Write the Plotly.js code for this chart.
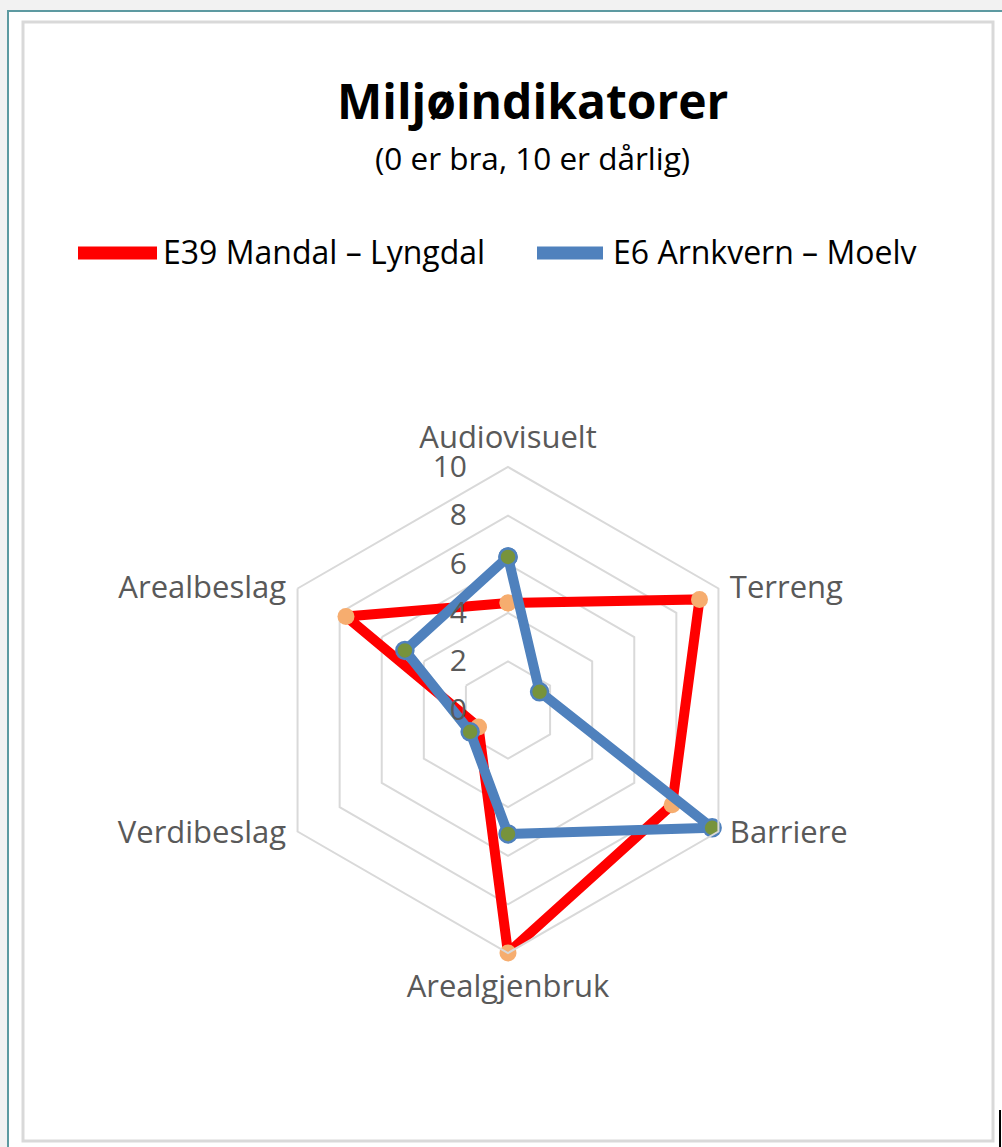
<!DOCTYPE html>
<html>
<head>
<meta charset="utf-8">
<script src="https://cdn.plot.ly/plotly-3.0.1.min.js"></script>
<style>
  html, body { margin: 0; padding: 0; background: #f2f2f2; }
  #chart { width: 1002px; height: 1147px; }
</style>
</head>
<body>
<div id="chart"></div>
<script>
// ---- Data ----
const categories = ["Audiovisuelt", "Terreng", "Barriere", "Arealgjenbruk", "Verdibeslag", "Arealbeslag"];
const seriesNames = ["E39 Mandal – Lyngdal", "E6 Arnkvern – Moelv"];
const e39Values = [4.4, 9.1, 7.8, 10.0, 1.4, 7.7];
const e6Values = [6.3, 1.5, 9.7, 5.1, 1.8, 4.9];
const radialTicks = [0, 2, 4, 6, 8, 10];

// ---- Geometry helpers (page pixels -> paper) ----
const W = 1002, H = 1147;
const px = x => x / W;
const py = y => 1 - y / H;

const cx = 508, cy = 710, R = 243;

function closed(arr) { return arr.concat([arr[0]]); }

// angular label text: small vertical nudges via blank lines
const NB = "\u00a0";
const catLabels = categories.map((c, i) => {
  if (i === 1 || i === 5) return NB + "<br>" + c;                  // upper side labels: nudge down
  if (i === 2 || i === 4) return c + "<br>" + NB + "<br>" + NB;    // lower side labels: nudge up
  return c;
});

const traces = [
  {
    type: "scatterpolar",
    name: seriesNames[0],
    r: closed(e39Values),
    theta: closed(categories),
    mode: "lines+markers",
    line: { color: "#ff0000", width: 10 },
    marker: { color: "#f6ad6f", size: 17, line: { width: 0 } },
    showlegend: false,
    hoverinfo: "r+theta"
  },
  {
    type: "scatterpolar",
    name: seriesNames[1],
    r: closed(e6Values),
    theta: closed(categories),
    mode: "lines+markers",
    line: { color: "#4f81bd", width: 10 },
    marker: { color: "#77933c", size: 17, line: { color: "#4f81bd", width: 2.5 } },
    showlegend: false,
    hoverinfo: "r+theta"
  }
];

const layout = {
  width: W, height: H,
  margin: { l: 0, r: 0, t: 0, b: 0 },
  paper_bgcolor: "#f2f2f2",
  font: { family: "Open Sans, sans-serif", color: "#595959" },
  showlegend: false,
  polar: {
    domain: { x: [px(cx - R), px(cx + R)], y: [py(cy + R), py(cy - R)] },
    gridshape: "linear",
    bgcolor: "rgba(0,0,0,0)",
    radialaxis: {
      range: [0, 10],
      tickvals: radialTicks,
      ticktext: radialTicks.map(String),
      angle: 90,
      tickangle: 90,
      side: "counterclockwise",
      showline: false,
      ticks: "outside",
      ticklen: 30,
      tickcolor: "rgba(0,0,0,0)",
      gridcolor: "#d9d9d9",
      gridwidth: 2,
      tickfont: { size: 30, color: "#595959", family: "Open Sans, sans-serif" }
    },
    angularaxis: {
      rotation: 90,
      direction: "clockwise",
      tickvals: categories,
      ticktext: catLabels,
      showgrid: false,
      showline: true,
      linecolor: "#d9d9d9",
      linewidth: 2,
      ticks: "outside",
      ticklen: 6,
      tickcolor: "rgba(0,0,0,0)",
      tickfont: { size: 31, color: "#595959", family: "Open Sans, sans-serif" }
    }
  },
  shapes: [
    { type: "rect", xref: "paper", yref: "paper", x0: px(8), x1: px(1030), y0: py(1180), y1: py(11),
      fillcolor: "#ffffff", line: { color: "#5d9aa1", width: 2 }, layer: "below" },
    { type: "rect", xref: "paper", yref: "paper", x0: px(23), x1: px(993), y0: py(1141), y1: py(22),
      fillcolor: "#ffffff", line: { color: "#d9d9d9", width: 3 }, layer: "below" },
    { type: "line", xref: "paper", yref: "paper", x0: px(78), x1: px(157), y0: py(253), y1: py(253),
      line: { color: "#ff0000", width: 13 } },
    { type: "line", xref: "paper", yref: "paper", x0: px(537), x1: px(603), y0: py(253), y1: py(253),
      line: { color: "#4f81bd", width: 13 } },
    { type: "line", xref: "paper", yref: "paper", x0: px(1000), x1: px(1000), y0: py(1110), y1: py(1147),
      line: { color: "#000000", width: 2 } }
  ],
  annotations: [
    { text: "<b>Miljøindikatorer</b>", xref: "paper", yref: "paper", x: px(532), y: py(101),
      xanchor: "center", yanchor: "middle", showarrow: false,
      font: { size: 48, color: "#000000", family: "Open Sans, sans-serif" } },
    { text: "(0 er bra, 10 er dårlig)", xref: "paper", yref: "paper", x: px(532), y: py(157),
      xanchor: "center", yanchor: "middle", showarrow: false,
      font: { size: 31.5, color: "#000000", family: "Open Sans, sans-serif" } },
    { text: seriesNames[0], xref: "paper", yref: "paper", x: px(161), y: py(252),
      xanchor: "left", yanchor: "middle", showarrow: false,
      font: { size: 32, color: "#000000", family: "Open Sans, sans-serif" } },
    { text: seriesNames[1], xref: "paper", yref: "paper", x: px(611), y: py(252),
      xanchor: "left", yanchor: "middle", showarrow: false,
      font: { size: 32, color: "#000000", family: "Open Sans, sans-serif" } }
  ]
};

Plotly.newPlot("chart", traces, layout, { displayModeBar: false, staticPlot: true });
</script>
</body>
</html>
